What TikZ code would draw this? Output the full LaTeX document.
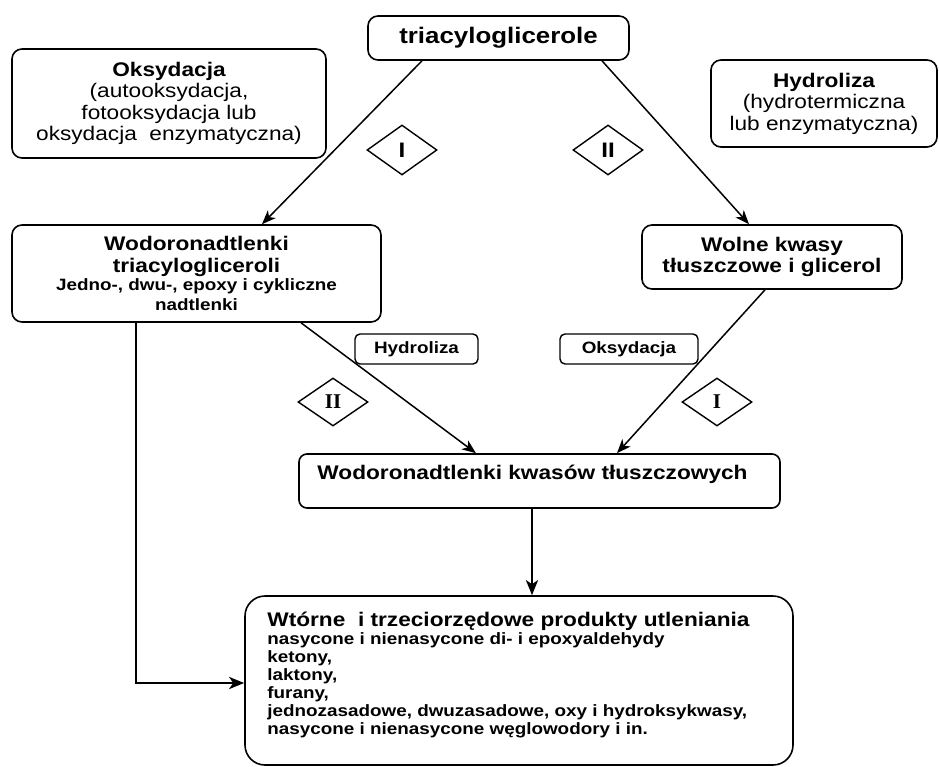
\documentclass[tikz,border=0pt]{standalone}
\usepackage{fontspec}
\setmainfont{Liberation Sans}[FakeStretch=1.15]
\newfontfamily\serifb{Liberation Serif}
\usetikzlibrary{shapes.geometric,arrows.meta}
\newcommand\fbig{\fontsize{19.7}{21.5}\selectfont}
\newcommand\fsmall{\fontsize{16.4}{18}\selectfont}
\newcommand\fdia{\fontsize{21}{21}\selectfont}
\tikzset{
  box/.style={draw, rounded corners=10pt, line width=1.6pt, inner sep=0pt, align=center, font=\fbig},
  lbl/.style={draw, rounded corners=5pt, line width=1.4pt, inner sep=0pt, font=\fsmall\bfseries},
  dia/.style={draw, diamond, line width=1.4pt, minimum width=70pt, minimum height=50pt, inner sep=0pt},
  conn/.style={line width=1.5pt, -{Stealth[length=14pt,width=11pt,inset=4pt]}},
  thickconn/.style={line width=2.7pt, -{Stealth[length=15pt,width=12pt,inset=4pt]}},
}
\begin{document}
\begin{tikzpicture}[x=1pt,y=-1pt]
\useasboundingbox (0,0) rectangle (939,767);

\node[box, minimum width=261pt, minimum height=44pt, font=\fontsize{22.5}{24}\selectfont\bfseries] (tri) at (498.5,38) {triacyloglicerole};
\node[box, minimum width=314pt, minimum height=109pt] (oks) at (169,103.5)
  {{\bfseries Oksydacja}\\(autooksydacja,\\fotooksydacja lub\\oksydacja\ \ enzymatyczna)};
\node[box, minimum width=226pt, minimum height=87pt] (hyd) at (824,103.5)
  {{\bfseries Hydroliza}\\(hydrotermiczna\\lub enzymatyczna)};

\node[dia, font=\fdia\bfseries] (d1) at (402,150) {I};
\node[dia, font=\fdia\bfseries] (d2) at (608,150) {II};

\node[box, minimum width=369pt, minimum height=97pt, font=\fbig\bfseries] (wt) at (196.5,273.5)
  {Wodoronadtlenki\\triacylogliceroli\\[-3pt]{\fsmall Jedno-, dwu-, epoxy i cykliczne}\\[-2pt]{\fsmall nadtlenki}};
\node[box, minimum width=260pt, minimum height=64pt, font=\fbig\bfseries] (wk) at (772,257)
  {Wolne kwasy\\tłuszczowe i glicerol};

\node[lbl, minimum width=123pt, minimum height=30pt] (lh) at (416.5,349) {Hydroliza};
\node[lbl, minimum width=138pt, minimum height=30pt] (lo) at (629,349) {Oksydacja};

\node[dia, minimum height=48pt, font=\fdia\serifb\bfseries] (d3) at (333,402) {II};
\node[dia, minimum height=48pt, font=\fdia\serifb\bfseries] (d4) at (717,402) {I};

\node[draw, rounded corners=8pt, line width=1.6pt, inner sep=0pt, minimum width=481pt,
      text height=25pt, text depth=29pt, font=\fbig\bfseries] (kw) at (539.5,481)
  {\hspace*{-14pt}Wodoronadtlenki kwasów tłuszczowych};

\node[draw, rounded corners=20pt, line width=1.6pt, inner sep=0pt, minimum width=548pt, minimum height=169pt] (wto) at (519,680.5) {};
\node[anchor=north west, inner sep=0pt, align=left, font=\fsmall\bfseries] (wtt) at ([xshift=23pt,yshift=-17pt]wto.north west)
  {{\fbig Wtórne\ \ i trzeciorzędowe produkty utleniania}\\
   nasycone i nienasycone di- i epoxyaldehydy\\
   ketony,\\
   laktony,\\
   furany,\\
   jednozasadowe, dwuzasadowe, oxy i hydroksykwasy,\\
   nasycone i nienasycone węglowodory i in.};

\draw[conn] ([xshift=-76.5pt]tri.south) -- ([xshift=65.5pt]wt.north);
\draw[conn] ([xshift=103.5pt]tri.south) -- ([xshift=-23pt]wk.north);
\draw[conn] ([xshift=104.5pt]wt.south) -- ([xshift=-63.5pt]kw.north);
\draw[conn] ([xshift=-7pt]wk.south) -- ([xshift=77.5pt]kw.north);
\draw[thickconn] ([xshift=-60.5pt]wt.south) |- ([yshift=-2.5pt]wto.west);
\draw[thickconn] ([xshift=-7.5pt]kw.south) -- ([xshift=13pt]wto.north);
\end{tikzpicture}
\end{document}
